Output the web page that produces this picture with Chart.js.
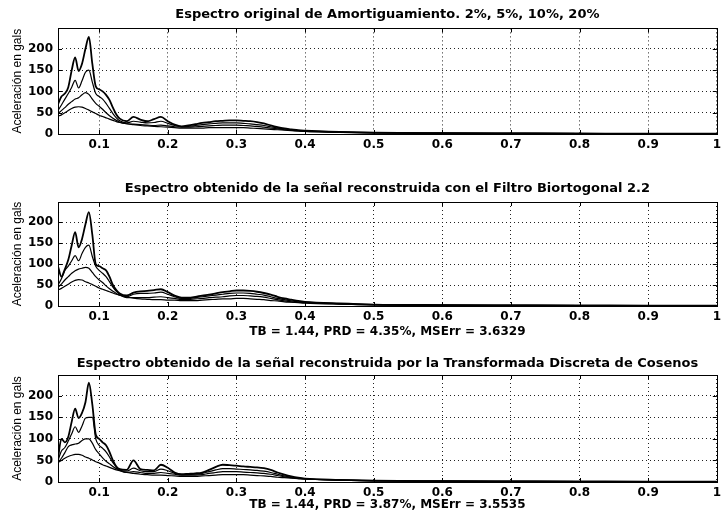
<!DOCTYPE html>
<html>
<head>
<meta charset="utf-8">
<script src="https://cdn.jsdelivr.net/npm/chart.js@4.4.0/dist/chart.umd.min.js"></script>
<style>
  body { margin: 0; background: #fff; overflow: hidden; }
  #wrap { position: relative; width: 725px; height: 511px; background: #fff; overflow: hidden; }
  canvas { position: absolute; left: 0; }
</style>
</head>
<body>
<div id="wrap">
  <canvas id="c1" width="725" height="160" style="top:0px"></canvas>
  <canvas id="c2" width="725" height="172" style="top:174px"></canvas>
  <canvas id="c3" width="725" height="167" style="top:347px"></canvas>
</div>
<script>
// periodo / frecuencia sampled on the horizontal axis
const freq = [0.04, 0.045, 0.05, 0.055, 0.06, 0.065, 0.07, 0.075, 0.08, 0.085, 0.09, 0.095, 0.1, 0.105, 0.11, 0.115, 0.12, 0.125, 0.13,
  0.14, 0.15, 0.16, 0.17, 0.18, 0.19, 0.2, 0.21, 0.22, 0.23, 0.24, 0.25, 0.26, 0.27, 0.28, 0.29, 0.3, 0.31, 0.32, 0.33, 0.34, 0.35, 0.36, 0.37, 0.38, 0.39, 0.4,
  0.45, 0.5, 0.6, 0.7, 0.8, 0.9, 1.0];

const xTicks = [0.1, 0.2, 0.3, 0.4, 0.5, 0.6, 0.7, 0.8, 0.9, 1.0];
const xTickLabels = ['0.1', '0.2', '0.3', '0.4', '0.5', '0.6', '0.7', '0.8', '0.9', '1'];
const yTicks = [0, 50, 100, 150, 200];
const damping = ['2%', '5%', '10%', '20%'];

// espectro original
const orig2 = [70, 88, 95, 110, 150, 180, 148, 165, 200, 228, 165, 112, 105, 100, 92, 80, 62, 46, 36,
  30, 40, 34, 30, 35, 40, 30, 22, 18, 20, 23, 26, 28, 30, 31, 32, 32, 31, 30, 28, 25, 20, 16, 13, 11, 9, 8,
  5, 3, 2, 1.5, 1.2, 1, 1];
const orig5 = [55, 68, 82, 95, 110, 126, 108, 125, 145, 150, 122, 95, 88, 82, 72, 60, 48, 38, 31,
  26, 30, 28, 26, 27, 30, 25, 20, 17, 18, 20, 22, 24, 25, 26, 26, 26, 25, 24, 22, 20, 17, 14, 12, 10, 8, 7,
  4.5, 3, 2, 1.5, 1.2, 1, 1];
const orig10 = [48, 55, 62, 70, 76, 82, 85, 92, 97, 93, 82, 72, 65, 58, 50, 43, 37, 32, 28,
  24, 23, 22, 21, 20, 21, 19, 17, 16, 16, 17, 18, 19, 20, 21, 21, 21, 20, 19, 18, 16, 14, 12, 10, 9, 7, 6,
  4, 2.8, 2, 1.5, 1.2, 1, 0.8];
const orig20 = [42, 45, 50, 55, 60, 63, 64, 63, 60, 56, 52, 48, 44, 41, 38, 35, 32, 29, 27,
  24, 22, 20, 19, 18, 17, 16, 15, 14, 14, 14, 14, 15, 15, 15, 15, 15, 15, 14, 13, 12, 11, 10, 9, 8, 7, 6,
  4, 2.5, 1.8, 1.4, 1.1, 0.9, 0.8];

// filtro biortogonal 2.2
const bior2 = [95, 70, 88, 110, 145, 176, 140, 160, 195, 224, 170, 100, 95, 90, 85, 70, 50, 38, 30,
  25, 32, 35, 36, 38, 40, 33, 25, 20, 20, 22, 25, 27, 30, 33, 35, 37, 37, 36, 34, 31, 27, 22, 18, 15, 12, 10,
  6, 3.5, 2.2, 1.6, 1.3, 1.1, 1];
const bior5 = [50, 65, 85, 95, 108, 120, 108, 125, 140, 145, 118, 95, 85, 78, 70, 58, 45, 35, 28,
  22, 28, 30, 30, 31, 33, 28, 22, 18, 18, 20, 22, 24, 26, 28, 30, 31, 31, 30, 28, 26, 22, 18, 15, 12, 10, 9,
  5.5, 3.2, 2, 1.5, 1.2, 1, 0.9];
const bior10 = [45, 52, 62, 70, 78, 84, 88, 90, 92, 90, 80, 70, 62, 56, 48, 41, 35, 30, 26,
  20, 20, 20, 20, 21, 22, 20, 18, 16, 16, 17, 18, 20, 21, 22, 24, 25, 25, 24, 23, 21, 18, 15, 12, 10, 9, 8,
  5, 3, 2, 1.5, 1.2, 1, 0.8];
const bior20 = [38, 42, 47, 52, 57, 61, 63, 62, 58, 55, 51, 47, 43, 40, 37, 34, 31, 28, 26,
  22, 19, 17, 16, 15, 15, 14, 14, 13, 13, 13, 14, 15, 16, 17, 17, 18, 18, 17, 16, 15, 13, 12, 10, 9, 8, 7,
  4.5, 2.8, 1.8, 1.4, 1.1, 0.9, 0.8];

// transformada discreta de cosenos
const dct2 = [55, 100, 92, 105, 140, 170, 148, 160, 185, 230, 180, 110, 100, 92, 85, 70, 50, 36, 30,
  28, 50, 30, 28, 27, 40, 33, 22, 18, 19, 20, 22, 28, 35, 40, 39, 38, 36, 35, 34, 32, 28, 22, 17, 13, 10, 8,
  5, 3, 2, 1.5, 1.2, 1, 1];
const dct5 = [50, 72, 80, 95, 112, 128, 115, 130, 148, 150, 150, 100, 85, 78, 70, 58, 45, 35, 28,
  25, 32, 26, 24, 24, 30, 26, 20, 17, 17, 18, 20, 24, 28, 31, 31, 30, 29, 28, 27, 25, 22, 18, 14, 11, 9, 7,
  4.5, 3, 2, 1.5, 1.2, 1, 0.9];
const dct10 = [45, 55, 68, 82, 86, 88, 90, 96, 100, 100, 90, 75, 65, 56, 48, 42, 36, 31, 27,
  22, 24, 22, 20, 20, 22, 20, 18, 16, 16, 16, 17, 20, 22, 24, 24, 24, 23, 22, 21, 20, 18, 15, 12, 10, 8, 7,
  4.5, 2.8, 2, 1.5, 1.2, 1, 0.8];
const dct20 = [45, 50, 55, 59, 62, 64, 64, 62, 58, 55, 51, 47, 44, 40, 37, 34, 31, 28, 26,
  22, 20, 18, 17, 16, 16, 15, 14, 13, 13, 13, 14, 15, 16, 17, 17, 17, 17, 16, 15, 14, 13, 11, 10, 9, 8, 7,
  4.5, 2.8, 1.8, 1.4, 1.1, 0.9, 0.8];

const tickFont = { family: "'DejaVu Sans', sans-serif", size: 12, weight: 'bold' };

// box around the plot area with small inward ticks, matlab style
const framePlugin = {
  id: 'frame',
  afterDraw(chart) {
    const { ctx, chartArea: a, scales } = chart;
    ctx.save();
    ctx.strokeStyle = '#000';
    ctx.lineWidth = 1;
    ctx.strokeRect(Math.round(a.left) + 0.5, Math.round(a.top) + 0.5,
      Math.round(a.right - a.left), Math.round(a.bottom - a.top));
    ctx.beginPath();
    xTicks.forEach(v => {
      const px = Math.round(scales.x.getPixelForValue(v)) + 0.5;
      ctx.moveTo(px, a.bottom); ctx.lineTo(px, a.bottom - 4);
      ctx.moveTo(px, a.top); ctx.lineTo(px, a.top + 4);
    });
    yTicks.forEach(v => {
      const py = Math.round(scales.y.getPixelForValue(v)) + 0.5;
      ctx.moveTo(a.left, py); ctx.lineTo(a.left + 4, py);
      ctx.moveTo(a.right, py); ctx.lineTo(a.right - 4, py);
    });
    ctx.stroke();
    ctx.restore();
  }
};

function makeChart(id, title, series, note, axisHeight, notePad, titlePad) {
  const ctx = document.getElementById(id).getContext('2d');
  return new Chart(ctx, {
    type: 'line',
    data: {
      datasets: series.map((vals, i) => ({
        label: damping[i],
        data: freq.map((f, j) => ({ x: f, y: vals[j] })),
        borderColor: '#000',
        borderWidth: i === 0 ? 1.8 : 1.2,
        pointRadius: 0,
        cubicInterpolationMode: 'monotone',
        fill: false
      }))
    },
    options: {
      responsive: false,
      animation: false,
      layout: { padding: { left: 0, right: 8, top: 0, bottom: 0 } },
      plugins: {
        legend: { display: false },
        tooltip: { enabled: false },
        title: {
          display: true,
          fullSize: false,   // center over the plot area, not the canvas
          text: title,
          color: '#000',
          font: { family: "'DejaVu Sans', sans-serif", size: 13, weight: 'bold' },
          padding: titlePad
        }
      },
      scales: {
        x: {
          type: 'linear',
          min: 0.04,
          max: 1,
          afterBuildTicks: s => { s.ticks = xTicks.map(v => ({ value: v })); },
          afterFit: s => { s.height = axisHeight; },
          grid: { color: '#222', lineWidth: 1, drawTicks: false },
          border: { display: false, dash: [1, 3] },
          ticks: {
            color: '#000', font: tickFont, padding: 4, maxRotation: 0,
            callback: (v, i) => xTickLabels[i]
          },
          title: {
            display: !!note,
            text: note,
            color: '#000',
            font: tickFont,
            padding: { top: 0, bottom: notePad }
          }
        },
        y: {
          min: 0,
          max: 248,
          afterBuildTicks: s => { s.ticks = yTicks.map(v => ({ value: v })); },
          afterFit: s => { s.width = 58; },
          grid: { color: '#222', lineWidth: 1, drawTicks: false },
          border: { display: false, dash: [1, 3] },
          ticks: { color: '#000', font: tickFont, padding: 5 },
          title: {
            display: true,
            text: 'Aceleración en gals',
            color: '#000',
            font: { family: "'Liberation Sans Narrow', 'Liberation Sans', sans-serif", size: 12 },
            padding: { top: 10 }
          }
        }
      }
    },
    plugins: [framePlugin]
  });
}

makeChart('c1', 'Espectro original de Amortiguamiento. 2%, 5%, 10%, 20%',
  [orig2, orig5, orig10, orig20], '', 26, 0, { top: 7, bottom: 5.8 });
makeChart('c2', 'Espectro obtenido de la señal reconstruida con el Filtro Biortogonal 2.2',
  [bior2, bior5, bior10, bior20], 'TB = 1.44, PRD = 4.35%, MSErr = 3.6329', 40, 7, { top: 7.2, bottom: 5.2 });
makeChart('c3', 'Espectro obtenido de la señal reconstruida por la Transformada Discreta de Cosenos',
  [dct2, dct5, dct10, dct20], 'TB = 1.44, PRD = 3.87%, MSErr = 3.5535', 32, 2, { top: 9.2, bottom: 3.2 });
</script>
</body>
</html>
